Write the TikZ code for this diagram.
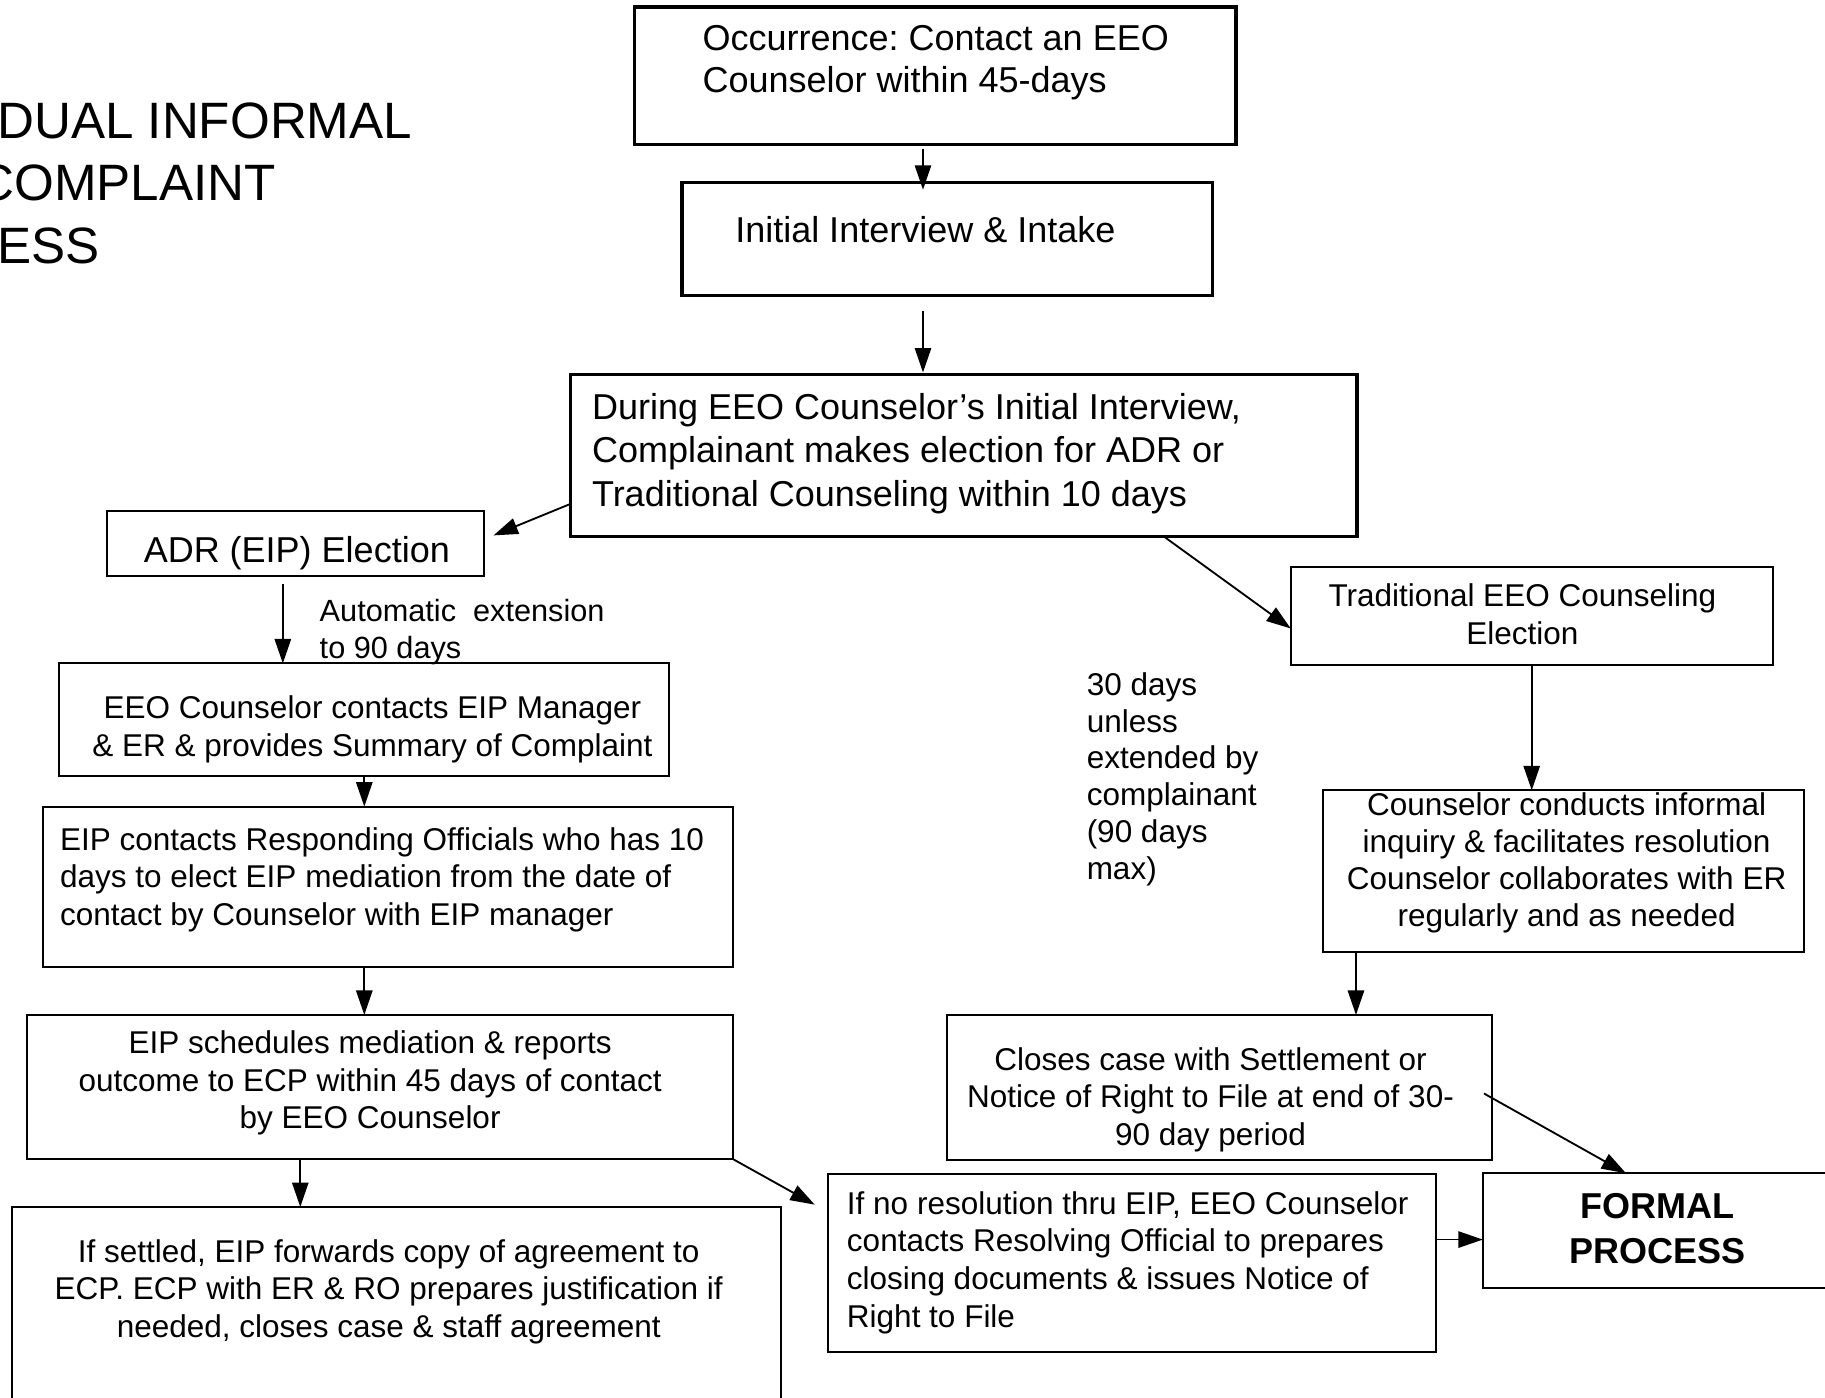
\documentclass[tikz,border=0pt]{standalone}
\usepackage{fontspec}
\setmainfont{Liberation Sans}
\usetikzlibrary{positioning, arrows.meta, calc}
\frenchspacing

\begin{document}
\begin{tikzpicture}[
  bigbox/.style={draw, line width=0.8pt, inner sep=0pt, outer sep=0pt, anchor=north west},
  box/.style={bigbox, line width=0.5pt},
  big/.style={inner sep=0pt, font=\fontsize{8.8}{10.4}\selectfont},
  small/.style={inner sep=0pt, font=\fontsize{7.7}{9.2}\selectfont},
  lefttxt/.style={anchor=north west, align=left},
  midtxt/.style={anchor=north, align=center},
  arr/.style={-{Triangle[length=2.1mm, width=1.4mm]}, line width=0.45pt}
]
\useasboundingbox (0,0) rectangle (15.68,-12.01);

% title, cut at the left page edge
\node[inner sep=0pt, anchor=base west, font=\fontsize{12.5}{15}\selectfont] (title1) at (-0.03,-1.19) {DUAL INFORMAL};
\node[inner sep=0pt, anchor=base west, font=\fontsize{12.5}{15}\selectfont] (title2) at (-0.20,-1.72) {COMPLAINT};
\node[inner sep=0pt, anchor=base west, font=\fontsize{12.5}{15}\selectfont] (title3) at (-0.03,-2.26) {ESS};

% boxes down the middle
\node[bigbox, minimum width=5.17cm, minimum height=1.18cm] (occ)    at (5.45,-0.06) {};
\node[bigbox, minimum width=4.56cm, minimum height=0.97cm] (intake) at (5.86,-1.57) {};
\node[bigbox, minimum width=6.76cm, minimum height=1.39cm] (during) at (4.90,-3.22) {};

% ADR branch on the left
\node[box, minimum width=3.24cm, minimum height=0.56cm] (adr)     at (0.92,-4.39) {};
\node[box, minimum width=5.24cm, minimum height=0.97cm] (eeoc)    at (0.51,-5.70) {};
\node[box, minimum width=5.93cm, minimum height=1.38cm] (eipc)    at (0.37,-6.93) {};
\node[box, minimum width=6.07cm, minimum height=1.24cm] (sched)   at (0.23,-8.72) {};
\node[box, minimum width=6.61cm, minimum height=1.80cm] (settled) at (0.10,-10.37) {};
\node[box, minimum width=5.23cm, minimum height=1.53cm] (nores)   at (7.11,-10.09) {};

% traditional branch on the right
\node[box, minimum width=4.14cm, minimum height=0.84cm] (trad)    at (11.09,-4.87) {};
\node[box, minimum width=4.13cm, minimum height=1.39cm] (inq)     at (11.37,-6.79) {};
\node[box, minimum width=4.68cm, minimum height=1.25cm] (closes)  at (8.14,-8.72) {};
\node[box, minimum width=3.10cm, minimum height=0.99cm] (formal)  at (12.74,-10.08) {};

% box texts
\node[big, lefttxt] (occ-t) at (6.03,-0.21) {Occurrence: Contact an EEO\\Counselor within 45-days};
\node[big, lefttxt] (intake-t) at (6.31,-1.85) {Initial Interview \& Intake};
\node[big, lefttxt, font=\fontsize{8.8}{10.7}\selectfont] (during-t) at (5.08,-3.37)
  {During EEO Counselor's Initial Interview,\\Complainant makes election for ADR or\\Traditional Counseling within 10 days};
\node[big, midtxt] (adr-t) at (2.55,-4.60) {ADR (EIP) Election};
\node[small, midtxt] (eeoc-t) at (3.20,-5.97) {EEO Counselor contacts EIP Manager\\\& ER \& provides Summary of Complaint};
\node[small, lefttxt] (eipc-t) at (0.51,-7.10)
  {EIP contacts Responding Officials who has 10\\days to elect EIP mediation from the date of\\contact by Counselor with EIP manager};
\node[small, midtxt] (sched-t) at (3.18,-8.85)
  {EIP schedules mediation \& reports\\outcome to ECP within 45 days of contact\\by EEO Counselor};
\node[small, midtxt] (settled-t) at (3.34,-10.64)
  {If settled, EIP forwards copy of agreement to\\ECP. ECP with ER \& RO prepares justification if\\needed, closes case \& staff agreement};
\node[small, lefttxt] (nores-t) at (7.27,-10.23)
  {If no resolution thru EIP, EEO Counselor\\contacts Resolving Official to prepares\\closing documents \& issues Notice of\\Right to File};
\node[small, midtxt] (trad-t) at (13.08,-5.01) {Traditional EEO Counseling\\Election};
\node[small, midtxt, font=\fontsize{7.7}{9.1}\selectfont] (inq-t) at (13.46,-6.80)
  {Counselor conducts informal\\inquiry \& facilitates resolution\\Counselor collaborates with ER\\regularly and as needed};
\node[small, midtxt] (closes-t) at (10.40,-8.99)
  {Closes case with Settlement or\\Notice of Right to File at end of 30-\\90 day period};
\node[big, midtxt, font=\bfseries\fontsize{8.8}{10.8}\selectfont] (formal-t) at (14.24,-10.25) {FORMAL\\PROCESS};

% free labels
\node[small, lefttxt, font=\fontsize{7.5}{9.1}\selectfont] (ext) at (2.74,-5.14) {Automatic\ \ extension\\to 90 days};
\node[small, lefttxt, font=\fontsize{7.7}{9.0}\selectfont] (days30) at (9.33,-5.77)
  {30 days\\unless\\extended by\\complainant\\(90 days\\max)};

% connectors
\draw[arr, shorten <=0.4mm, shorten >=-0.6mm] (7.93,0 |- occ.south) -- (7.93,0 |- intake.north);
\draw[arr, shorten <=1.3mm, shorten >=0.2mm] (7.93,0 |- intake.south) -- (7.93,0 |- during.north);
\draw[arr] (during.west |- 0,-4.33) -- ($(adr.east)+(0.08,0.07)$);
\draw[arr] (10.00,0 |- during.south) -- ($(trad.west)+(0,-0.11)$);
\draw[arr, shorten <=0.7mm] (2.43,0 |- adr.south) -- (2.43,0 |- eeoc.north);
\draw[arr] (3.13,0 |- eeoc.south) -- (3.13,0 |- eipc.north);
\draw[arr] (3.13,0 |- eipc.south) -- (3.13,0 |- sched.north);
\draw[arr] (2.58,0 |- sched.south) -- (2.58,0 |- settled.north);
\draw[arr] (sched.south east) -- ($(nores.north west)+(-0.11,-0.26)$);
\draw[arr] (nores.east |- 0,-10.65) -- (formal.west |- 0,-10.65);
\draw[arr] (13.16,0 |- trad.south) -- (13.16,0 |- inq.north);
\draw[arr] (11.65,0 |- inq.south) -- (11.65,0 |- closes.north);
\draw[arr] ($(closes.east)+(-0.07,-0.05)$) -- (13.97,0 |- formal.north);

\end{tikzpicture}
\end{document}
